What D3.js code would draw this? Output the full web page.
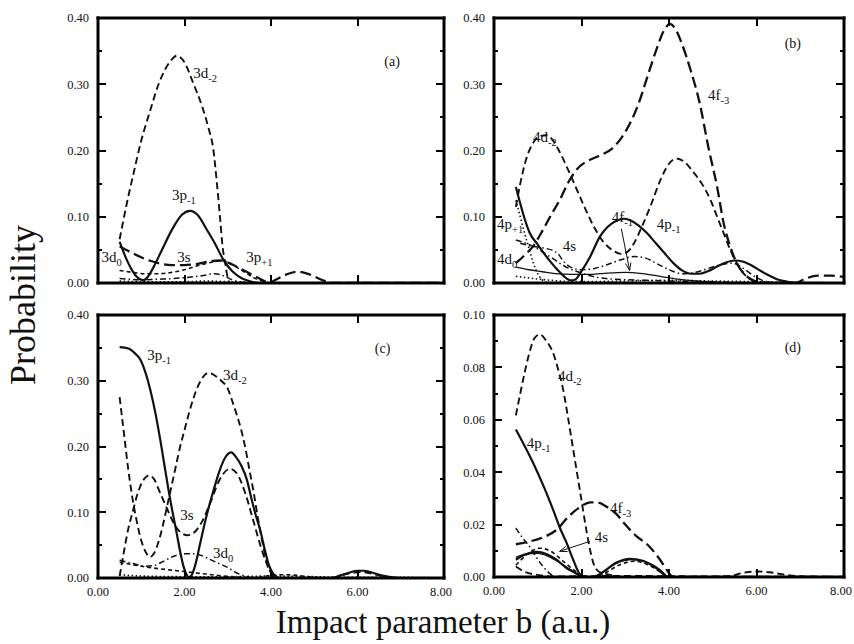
<!DOCTYPE html>
<html>
<head>
<meta charset="utf-8">
<script src="https://cdn.jsdelivr.net/npm/d3@7"></script>
<style>
  body { margin: 0; background: #fff; }
  svg text { font-family: "Liberation Serif", "Times New Roman", serif; fill: #111; }
</style>
</head>
<body>
<svg id="chart" width="854" height="644" viewBox="0 0 854 644"></svg>
<script>
// ---- Probability vs impact parameter b (a.u.), points as [b, P] ----

// Panel (a): n = 3 states
const a3dm2 = [[0.5,0.066],[0.65,0.115],[0.82,0.165],[1.0,0.215],[1.21,0.261],[1.4,0.3],[1.55,0.322],[1.7,0.337],[1.82,0.343],[2.0,0.333],[2.2,0.302],[2.4,0.268],[2.55,0.235],[2.67,0.2],[2.75,0.15],[2.82,0.1],[2.88,0.055],[2.94,0.03],[3.0,0.008],[3.05,0],[8,0]];
const a3pm1 = [[0.5,0.062],[0.6,0.045],[0.7,0.03],[0.8,0.018],[0.9,0.009],[1.0,0.005],[1.05,0.004],[1.15,0.009],[1.3,0.026],[1.5,0.053],[1.75,0.085],[1.94,0.103],[2.13,0.109],[2.3,0.103],[2.52,0.08],[2.7,0.06],[2.9,0.035],[3.1,0.018],[3.3,0.008],[3.5,0.003],[3.7,0],[8,0]];
const a3s   = [[0.5,0.055],[0.8,0.045],[1.1,0.036],[1.4,0.03],[1.7,0.027],[2.0,0.027],[2.3,0.029],[2.6,0.033],[2.85,0.034],[3.1,0.028],[3.4,0.018],[3.7,0.008],[3.95,0.001],[4.2,0.008],[4.4,0.014],[4.6,0.017],[4.8,0.015],[5.0,0.01],[5.2,0.004],[5.4,0],[8,0]];
const a3pp1 = [[0.5,0.019],[0.8,0.016],[1.1,0.014],[1.4,0.014],[1.7,0.016],[2.0,0.02],[2.3,0.026],[2.6,0.031],[2.85,0.034],[3.05,0.03],[3.25,0.022],[3.45,0.014],[3.63,0.007],[3.8,0.003],[4.0,0],[8,0]];
const a3d0  = [[0.5,0.007],[1.0,0.005],[1.5,0.006],[2.0,0.008],[2.4,0.011],[2.7,0.014],[2.9,0.011],[3.1,0.005],[3.3,0.001],[3.5,0],[8,0]];
const a3d1  = [[0.5,0.003],[1.0,0.002],[2.0,0.002],[2.5,0.003],[3.0,0.002],[3.5,0.001],[4.0,0],[8,0]];

// Panel (b): n = 4 states
const b4fm3 = [[0.5,0.03],[0.7,0.042],[0.9,0.056],[1.1,0.078],[1.3,0.102],[1.5,0.125],[1.7,0.152],[1.9,0.172],[2.1,0.183],[2.3,0.189],[2.5,0.195],[2.7,0.203],[2.9,0.218],[3.1,0.24],[3.3,0.27],[3.5,0.31],[3.7,0.35],[3.9,0.383],[4.02,0.391],[4.15,0.383],[4.3,0.36],[4.5,0.32],[4.7,0.272],[4.9,0.205],[5.1,0.145],[5.25,0.09],[5.4,0.055],[5.55,0.03],[5.7,0.015],[5.9,0.005],[6.1,0.001],[6.3,0],[6.9,0],[7.1,0.006],[7.4,0.011],[7.7,0.011],[8,0.009]];
const b4dm2 = [[0.5,0.115],[0.6,0.15],[0.75,0.19],[0.9,0.212],[1.05,0.222],[1.2,0.223],[1.35,0.215],[1.5,0.198],[1.7,0.17],[1.9,0.14],[2.1,0.11],[2.3,0.083],[2.5,0.062],[2.7,0.05],[2.9,0.044],[3.05,0.047],[3.2,0.06],[3.4,0.088],[3.6,0.12],[3.8,0.155],[4.0,0.18],[4.17,0.188],[4.35,0.183],[4.55,0.168],[4.75,0.15],[4.95,0.125],[5.1,0.1],[5.25,0.075],[5.4,0.05],[5.55,0.03],[5.7,0.015],[5.85,0.006],[6.0,0.002],[6.2,0],[8,0]];
const b4pm1 = [[0.5,0.145],[0.6,0.12],[0.7,0.097],[0.82,0.075],[1.0,0.058],[1.15,0.044],[1.28,0.033],[1.45,0.02],[1.6,0.01],[1.75,0.004],[1.85,0.005],[2.0,0.018],[2.2,0.04],[2.42,0.07],[2.6,0.085],[2.8,0.094],[2.97,0.097],[3.1,0.095],[3.3,0.087],[3.5,0.075],[3.7,0.06],[3.9,0.045],[4.1,0.03],[4.3,0.019],[4.5,0.014],[4.7,0.014],[4.9,0.018],[5.1,0.025],[5.3,0.031],[5.5,0.034],[5.7,0.032],[5.9,0.026],[6.1,0.018],[6.3,0.011],[6.5,0.005],[6.7,0.002],[6.9,0],[8,0]];
const b4s   = [[0.6,0.06],[0.9,0.055],[1.2,0.052],[1.45,0.045],[1.6,0.032],[1.75,0.024],[2.0,0.02],[2.3,0.022],[2.6,0.028],[2.9,0.035],[3.2,0.04],[3.45,0.038],[3.7,0.03],[4.0,0.02],[4.3,0.014],[4.6,0.016],[4.9,0.022],[5.2,0.028],[5.45,0.03],[5.7,0.022],[6.0,0.008],[6.3,0.001],[6.5,0],[8,0]];
const b4pp1 = [[0.5,0.065],[0.9,0.055],[1.27,0.04],[1.65,0.024],[2.0,0.015],[2.4,0.008],[3.0,0.005],[3.5,0.004],[4.0,0.003],[5.0,0.002],[6.0,0],[8,0]];
const b4x   = [[0.5,0.125],[0.6,0.1],[0.7,0.075],[0.8,0.052],[0.9,0.03],[1.0,0.014],[1.1,0.005],[1.2,0.001],[1.3,0],[8,0]];
const b4d0  = [[0.5,0.024],[0.8,0.02],[1.1,0.017],[1.4,0.014],[1.8,0.013],[2.2,0.013],[2.6,0.015],[3.0,0.016],[3.4,0.014],[3.8,0.01],[4.2,0.006],[4.6,0.003],[5.0,0.001],[5.5,0],[8,0]];
const b4fm1 = [[0.5,0.01],[1.0,0.006],[1.5,0.003],[2.0,0.002],[3.0,0.003],[4.0,0.004],[5.0,0.003],[6.0,0.002],[7.0,0.001],[8,0]];

// Panel (c): n = 3 states
const c3pm1 = [[0.5,0.351],[0.7,0.349],[0.85,0.342],[0.98,0.332],[1.1,0.312],[1.21,0.286],[1.33,0.25],[1.44,0.21],[1.54,0.17],[1.63,0.134],[1.73,0.098],[1.82,0.068],[1.9,0.04],[1.98,0.017],[2.05,0.005],[2.1,0.001],[2.17,0.005],[2.25,0.02],[2.36,0.052],[2.5,0.092],[2.67,0.133],[2.82,0.165],[2.95,0.184],[3.08,0.191],[3.2,0.183],[3.32,0.17],[3.44,0.15],[3.55,0.12],[3.65,0.095],[3.75,0.073],[3.85,0.045],[3.95,0.02],[4.02,0.01],[4.1,0.003],[4.2,0],[5.4,0],[5.6,0.004],[5.8,0.008],[6.0,0.011],[6.15,0.011],[6.35,0.008],[6.55,0.004],[6.8,0.001],[7.0,0],[8,0]];
const c3dm2 = [[0.5,0.275],[0.6,0.22],[0.7,0.165],[0.8,0.12],[0.9,0.085],[1.0,0.057],[1.1,0.04],[1.2,0.032],[1.3,0.038],[1.4,0.055],[1.5,0.08],[1.6,0.11],[1.7,0.14],[1.8,0.17],[1.9,0.2],[2.0,0.225],[2.1,0.25],[2.2,0.272],[2.3,0.29],[2.4,0.303],[2.55,0.312],[2.7,0.308],[2.85,0.3],[3.0,0.288],[3.1,0.27],[3.2,0.25],[3.3,0.228],[3.4,0.2],[3.5,0.165],[3.6,0.13],[3.7,0.09],[3.8,0.055],[3.9,0.025],[4.0,0.008],[4.1,0],[8,0]];
const c3s   = [[0.5,0.003],[0.6,0.04],[0.7,0.075],[0.8,0.1],[0.9,0.125],[1.0,0.143],[1.1,0.153],[1.17,0.156],[1.3,0.15],[1.4,0.135],[1.5,0.12],[1.6,0.105],[1.7,0.09],[1.8,0.078],[1.9,0.07],[2.07,0.065],[2.2,0.068],[2.4,0.085],[2.6,0.115],[2.8,0.148],[3.0,0.165],[3.05,0.166],[3.2,0.16],[3.4,0.13],[3.6,0.085],[3.8,0.04],[4.0,0.008],[4.1,0],[5.5,0],[5.7,0.005],[5.9,0.008],[6.1,0.009],[6.3,0.007],[6.5,0.004],[6.8,0],[8,0]];
const c3d0  = [[0.5,0.027],[0.8,0.022],[1.1,0.018],[1.3,0.019],[1.5,0.025],[1.75,0.033],[2.0,0.037],[2.2,0.037],[2.4,0.034],[2.6,0.028],[2.8,0.022],[3.0,0.016],[3.2,0.008],[3.4,0.003],[3.6,0],[8,0]];
const c3p0  = [[0.5,0.024],[0.9,0.019],[1.3,0.015],[1.7,0.012],[2.1,0.009],[2.5,0.006],[2.9,0.003],[3.3,0.001],[3.6,0],[4.0,0.004],[4.3,0.005],[4.6,0.004],[5.0,0.001],[5.4,0],[8,0]];
const c3d1  = [[0.5,0.005],[1.0,0.003],[2.0,0.002],[3.0,0.002],[4.0,0.003],[5.0,0.002],[6.0,0.001],[7.0,0.001],[8,0]];

// Panel (d): n = 4 states
const d4dm2 = [[0.5,0.0617],[0.6,0.07],[0.7,0.078],[0.8,0.085],[0.92,0.091],[1.05,0.0926],[1.2,0.09],[1.35,0.0856],[1.47,0.079],[1.58,0.0716],[1.7,0.06],[1.81,0.0487],[1.96,0.0334],[2.11,0.018],[2.2,0.01],[2.27,0.0054],[2.4,0.002],[2.6,0.001],[3.0,0],[8,0]];
const d4pm1 = [[0.5,0.0563],[0.7,0.05],[0.93,0.0423],[1.15,0.034],[1.35,0.0257],[1.5,0.019],[1.66,0.013],[1.8,0.007],[1.96,0.001],[2.02,0]];
const d4fm3 = [[0.5,0.0125],[0.8,0.0135],[1.1,0.015],[1.43,0.018],[1.7,0.023],[1.95,0.0265],[2.2,0.0285],[2.4,0.0283],[2.6,0.0265],[2.8,0.024],[3.0,0.02],[3.26,0.0155],[3.5,0.0125],[3.71,0.0085],[3.9,0.004],[4.02,0.001],[4.1,0],[8,0]];
const d4s   = [[0.5,0.0066],[0.7,0.0085],[0.97,0.0096],[1.2,0.0088],[1.43,0.0066],[1.65,0.0035],[1.89,0.0012],[2.0,0],[2.3,0],[2.5,0.002],[2.8,0.0055],[3.1,0.0069],[3.4,0.0062],[3.7,0.0035],[4.0,0],[8,0]];
const d4p1  = [[0.5,0.0075],[0.75,0.0088],[1.0,0.009],[1.25,0.0078],[1.5,0.0055],[1.75,0.0028],[2.0,0.0005],[2.2,0],[2.45,0.0015],[2.8,0.0052],[3.15,0.0066],[3.5,0.0056],[3.8,0.0028],[4.0,0],[8,0]];
const d4d0  = [[0.5,0.0045],[0.75,0.0085],[1.05,0.011],[1.3,0.0098],[1.55,0.0065],[1.8,0.003],[2.0,0.0008],[2.3,0],[2.5,0.0012],[2.85,0.0045],[3.2,0.006],[3.5,0.0048],[3.8,0.002],[4.0,0],[8,0]];
const d4pp1 = [[0.5,0.0187],[0.65,0.015],[0.81,0.0117],[0.95,0.008],[1.12,0.004],[1.3,0.001],[1.4,0],[8,0]];
const d4fm1 = [[0.5,0.004],[0.7,0.002],[1.0,0.0008],[1.3,0.0002],[2.0,0.0003],[3.0,0.0004],[4.0,0.0003],[5.0,0.0002],[5.4,0.0004],[5.7,0.0016],[6.0,0.0021],[6.3,0.0018],[6.6,0.001],[7.0,0.0003],[8,0]];

// Axis tick values
const xTickLabels = [0, 2, 4, 6, 8];
const xTickMarks  = [2, 4, 6];
const yTicksMain  = [0, 0.1, 0.2, 0.3, 0.4];
const yMinorMain  = [0.05, 0.15, 0.25, 0.35];
const yTicksD     = [0, 0.02, 0.04, 0.06, 0.08, 0.1];
const yMinorD     = [0.01, 0.03, 0.05, 0.07, 0.09];

// ---- line styles ----
const styles = {
  solid:    { w: 2.2, dash: null },
  thin:     { w: 1.3, dash: null },
  dashed:   { w: 1.9, dash: "7,4" },
  longdash: { w: 2.3, dash: "11,5" },
  short:    { w: 1.6, dash: "4,3" },
  dashdot:  { w: 1.5, dash: "6,3,1.5,3" },
  dotted:   { w: 1.6, dash: "1.5,2.5" }
};

// ---- panel layout (pixel-aligned frames) ----
const panels = [
  { tag: "(a)", left: 98, right: 444, top: 18, bottom: 283, yMax: 0.4,
    yt: yTicksMain, ym: yMinorMain, xLabels: false,
    series: [[a3dm2,"dashed"],[a3pm1,"solid"],[a3s,"longdash"],[a3pp1,"short"],[a3d0,"dashdot"],[a3d1,"dotted"]],
    labels: [[2.2,0.31,"3d","-2"],[1.71,0.125,"3p","-1"],[1.83,0.031,"3s",""],[3.43,0.031,"3p","+1"],[0.08,0.031,"3d","0"]],
    tagPos: [6.8, 0.327], arrows: [] },
  { tag: "(b)", left: 494, right: 844, top: 18, bottom: 283, yMax: 0.4,
    yt: yTicksMain, ym: yMinorMain, xLabels: false,
    series: [[b4fm3,"longdash"],[b4dm2,"dashed"],[b4pm1,"solid"],[b4s,"dashdot"],[b4pp1,"dashdot"],[b4x,"dotted"],[b4d0,"thin"],[b4fm1,"dotted"]],
    labels: [[4.89,0.276,"4f","-3"],[0.89,0.213,"4d","-2"],[2.69,0.092,"4f","-1"],[3.72,0.081,"4p","-1"],[0.07,0.081,"4p","+1"],[1.57,0.049,"4s",""],[0.07,0.029,"4d","0"]],
    tagPos: [6.83, 0.355], arrows: [[2.91,0.082,3.1,0.019]] },
  { tag: "(c)", left: 98, right: 444, top: 315, bottom: 578, yMax: 0.4,
    yt: yTicksMain, ym: yMinorMain, xLabels: true,
    series: [[c3dm2,"dashed"],[c3s,"dashed"],[c3pm1,"solid"],[c3d0,"dashdot"],[c3p0,"short"],[c3d1,"dotted"]],
    labels: [[1.14,0.331,"3p","-1"],[2.89,0.301,"3d","-2"],[1.9,0.088,"3s",""],[2.66,0.03,"3d","0"]],
    tagPos: [6.58, 0.342], arrows: [] },
  { tag: "(d)", left: 494, right: 844, top: 315, bottom: 577, yMax: 0.1,
    yt: yTicksD, ym: yMinorD, xLabels: true,
    series: [[d4dm2,"dashed"],[d4pm1,"solid"],[d4fm3,"longdash"],[d4s,"solid"],[d4p1,"thin"],[d4d0,"short"],[d4pp1,"dashdot"],[d4fm1,"dashed"]],
    labels: [[1.46,0.0747,"4d","-2"],[0.75,0.0494,"4p","-1"],[2.65,0.0246,"4f","-3"],[2.3,0.0135,"4s",""]],
    tagPos: [6.83, 0.0857], arrows: [[2.19,0.0136,1.5,0.0098]] }
];

const svg = d3.select("#chart");
svg.append("rect").attr("width", 854).attr("height", 644).attr("fill", "#fff");
const defs = svg.append("defs");
const fmt = d3.format(".2f");
const scales = [];

// curves, labels and pointers for each panel
panels.forEach((p, i) => {
  const x = d3.scaleLinear().domain([0, 8]).range([p.left, p.right]);
  const y = d3.scaleLinear().domain([0, p.yMax]).range([p.bottom, p.top]);
  scales.push({ x, y });
  const g = svg.append("g");
  const clipId = "clip" + i;
  defs.append("clipPath").attr("id", clipId)
    .append("rect").attr("x", p.left).attr("y", p.top - 2)
    .attr("width", p.right - p.left).attr("height", p.bottom - p.top + 2);

  const line = d3.line().x(d => x(d[0])).y(d => y(d[1])).curve(d3.curveMonotoneX);
  const cg = g.append("g").attr("clip-path", `url(#${clipId})`);
  p.series.forEach(([data, st]) => {
    const s = styles[st];
    cg.append("path").attr("d", line(data))
      .attr("fill", "none").attr("stroke", "#111").attr("stroke-width", s.w)
      .attr("stroke-dasharray", s.dash).attr("stroke-linejoin", "round");
  });

  p.labels.forEach(([bv, pv, main, sub]) => {
    const t = g.append("text").attr("x", x(bv)).attr("y", y(pv))
      .attr("font-size", 15).text(main);
    if (sub) t.append("tspan").attr("dy", 4).attr("font-size", 10.5).text(sub);
  });

  g.append("text").attr("x", x(p.tagPos[0])).attr("y", y(p.tagPos[1]))
    .attr("text-anchor", "middle").attr("font-size", 14).text(p.tag);

  p.arrows.forEach(([b0, v0, b1, v1]) => {
    const x0 = x(b0), y0 = y(v0), x1 = x(b1), y1 = y(v1);
    g.append("line").attr("x1", x0).attr("y1", y0).attr("x2", x1).attr("y2", y1)
      .attr("stroke", "#111").attr("stroke-width", 1);
    const ang = Math.atan2(y1 - y0, x1 - x0), L = 8, spread = 0.35;
    const pts = [
      [x1 - L * Math.cos(ang - spread), y1 - L * Math.sin(ang - spread)],
      [x1, y1],
      [x1 - L * Math.cos(ang + spread), y1 - L * Math.sin(ang + spread)]
    ];
    g.append("path").attr("d", d3.line()(pts))
      .attr("fill", "none").attr("stroke", "#111").attr("stroke-width", 1);
  });
});

// frames and inward tick marks as filled shapes, drawn on top
panels.forEach((p, i) => {
  const { x, y } = scales[i];
  const fg = svg.append("g");
  const bar = (x0, y0, w, h) =>
    fg.append("rect").attr("x", x0).attr("y", y0).attr("width", w).attr("height", h).attr("fill", "#000");

  // y ticks on both sides (major 8px, minor 4px)
  p.yt.forEach(v => { const py = Math.round(y(v)); bar(p.left, py - 1, 8, 2); bar(p.right - 8, py - 1, 8, 2); });
  p.ym.forEach(v => { const py = Math.round(y(v)); bar(p.left, py - 1, 4, 2); bar(p.right - 4, py - 1, 4, 2); });
  // x ticks on top and bottom
  xTickMarks.forEach(v => { const px = Math.round(x(v)); bar(px - 1, p.top, 2, 8); bar(px - 1, p.bottom - 8, 2, 8); });

  // frame: four solid bars 3px thick
  const t = 3, h = t / 2;
  bar(p.left - h, p.top - h, p.right - p.left + t, t);
  bar(p.left - h, p.bottom - h, p.right - p.left + t, t);
  bar(p.left - h, p.top - h, t, p.bottom - p.top + t);
  bar(p.right - h, p.top - h, t, p.bottom - p.top + t);

  // tick labels
  p.yt.forEach(v => {
    fg.append("text").attr("x", p.left - 9).attr("y", y(v)).attr("dy", "0.35em")
      .attr("text-anchor", "end").attr("font-size", 12.5).text(fmt(v));
  });
  if (p.xLabels) {
    xTickLabels.forEach(v => {
      fg.append("text").attr("x", x(v) - (v === 8 ? 3 : 0)).attr("y", p.bottom + 18)
        .attr("text-anchor", "middle").attr("font-size", 12.5).text(fmt(v));
    });
  }
});

// shared axis titles
svg.append("text").attr("transform", "translate(35,305) rotate(-90)")
  .attr("text-anchor", "middle").attr("font-size", 36).text("Probability");
svg.append("text").attr("x", 443).attr("y", 633)
  .attr("text-anchor", "middle").attr("font-size", 33).text("Impact parameter b (a.u.)");
</script>
</body>
</html>
